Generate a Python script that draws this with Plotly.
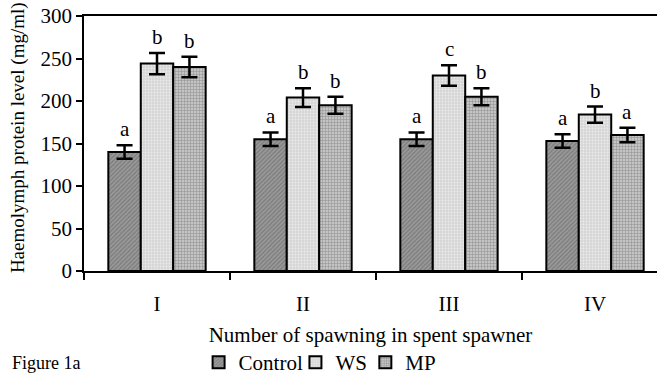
import plotly.graph_objects as go

categories = ["I", "II", "III", "IV"]
series_names = ["Control", "WS", "MP"]
control = [140, 155, 155, 153]
ws = [244, 204, 230, 184]
mp = [240, 195, 205, 160]
control_err = [8, 8, 8, 8]
ws_err = [12.5, 11, 12, 9.5]
mp_err = [12, 10, 10, 8.5]
control_letters = ["a", "a", "a", "a"]
ws_letters = ["b", "b", "c", "b"]
mp_letters = ["b", "b", "b", "a"]

FONT = "Liberation Serif, Times New Roman, serif"

values = [control, ws, mp]
errors = [control_err, ws_err, mp_err]
letters = [control_letters, ws_letters, mp_letters]
styles = [
    dict(color="#8a8a8a", pattern=dict(shape="/", fgcolor="#555555", bgcolor="#999999", size=3, solidity=0.35)),
    dict(color="#e2e2e2", pattern=dict(shape=".", fgcolor="#ffffff", bgcolor="#d6d6d6", size=3, solidity=0.3)),
    dict(color="#a8a8a8", pattern=dict(shape="+", fgcolor="#666666", bgcolor="#c4c4c4", size=3, solidity=0.35)),
]
legend_ids = ["legend", "legend2", "legend3"]
legend_x = [0.2, 0.369, 0.491]

fig = go.Figure()
for name, vals, errs, st, lg in zip(series_names, values, errors, styles, legend_ids):
    fig.add_trace(go.Bar(
        name=name, x=categories, y=vals, legend=lg,
        marker=dict(color=st["color"], pattern=st["pattern"], line=dict(color="black", width=2)),
        error_y=dict(type="data", array=errs, color="black", thickness=2.5, width=8),
    ))

offsets = [-2/9, 0, 2/9]
for k in range(3):
    for i in range(len(categories)):
        fig.add_annotation(
            x=i + offsets[k], y=values[k][i] + errors[k][i], xref="x", yref="y",
            text=letters[k][i], showarrow=False, yanchor="bottom", yshift=2,
            font=dict(family=FONT, size=21, color="black"),
        )

fig.add_annotation(
    x=-0.129, y=-0.361, xref="paper", yref="paper", xanchor="left", yanchor="middle",
    text="Figure 1a", showarrow=False, font=dict(family=FONT, size=18, color="black"),
)

# y-axis title
fig.add_annotation(
    x=-0.1152, y=0.525, xref="paper", yref="paper", xanchor="center", yanchor="middle",
    text="Haemolymph protein level (mg/ml)", textangle=-90, showarrow=False,
    font=dict(family=FONT, size=19, color="black"),
)

legend_common = dict(orientation="h", xanchor="left", y=-0.361, yanchor="middle",
                     font=dict(family=FONT, size=21, color="black"), itemwidth=30,
                     bgcolor="rgba(0,0,0,0)")

fig.update_layout(
    width=657, height=383,
    margin=dict(l=84, r=0, t=16, b=112),
    paper_bgcolor="white", plot_bgcolor="white",
    barmode="group", bargap=1/3, bargroupgap=0,
    font=dict(family=FONT, size=21, color="black"),
    showlegend=True,
    legend=dict(x=legend_x[0], **legend_common),
    legend2=dict(x=legend_x[1], **legend_common),
    legend3=dict(x=legend_x[2], **legend_common),
    xaxis=dict(
        type="category", range=[-0.5, 3.5 - 11/146], tickson="boundaries",
        ticks="outside", ticklen=7, tickcolor="black", tickwidth=1.5,
        showline=True, linecolor="black", linewidth=1.5, mirror=True,
        showgrid=False, ticklabelstandoff=13,
        title=dict(text="Number of spawning in spent spawner", standoff=12,
                   font=dict(family=FONT, size=21)),
        tickfont=dict(family=FONT, size=21),
    ),
    yaxis=dict(
        range=[0, 300], dtick=50, ticks="outside", ticklen=6, tickcolor="black", tickwidth=1.5,
        showline=True, linecolor="black", linewidth=1.5, mirror=False,
        showgrid=False, zeroline=False,
        tickfont=dict(family=FONT, size=21),
    ),
)

fig.write_html("out.html")
